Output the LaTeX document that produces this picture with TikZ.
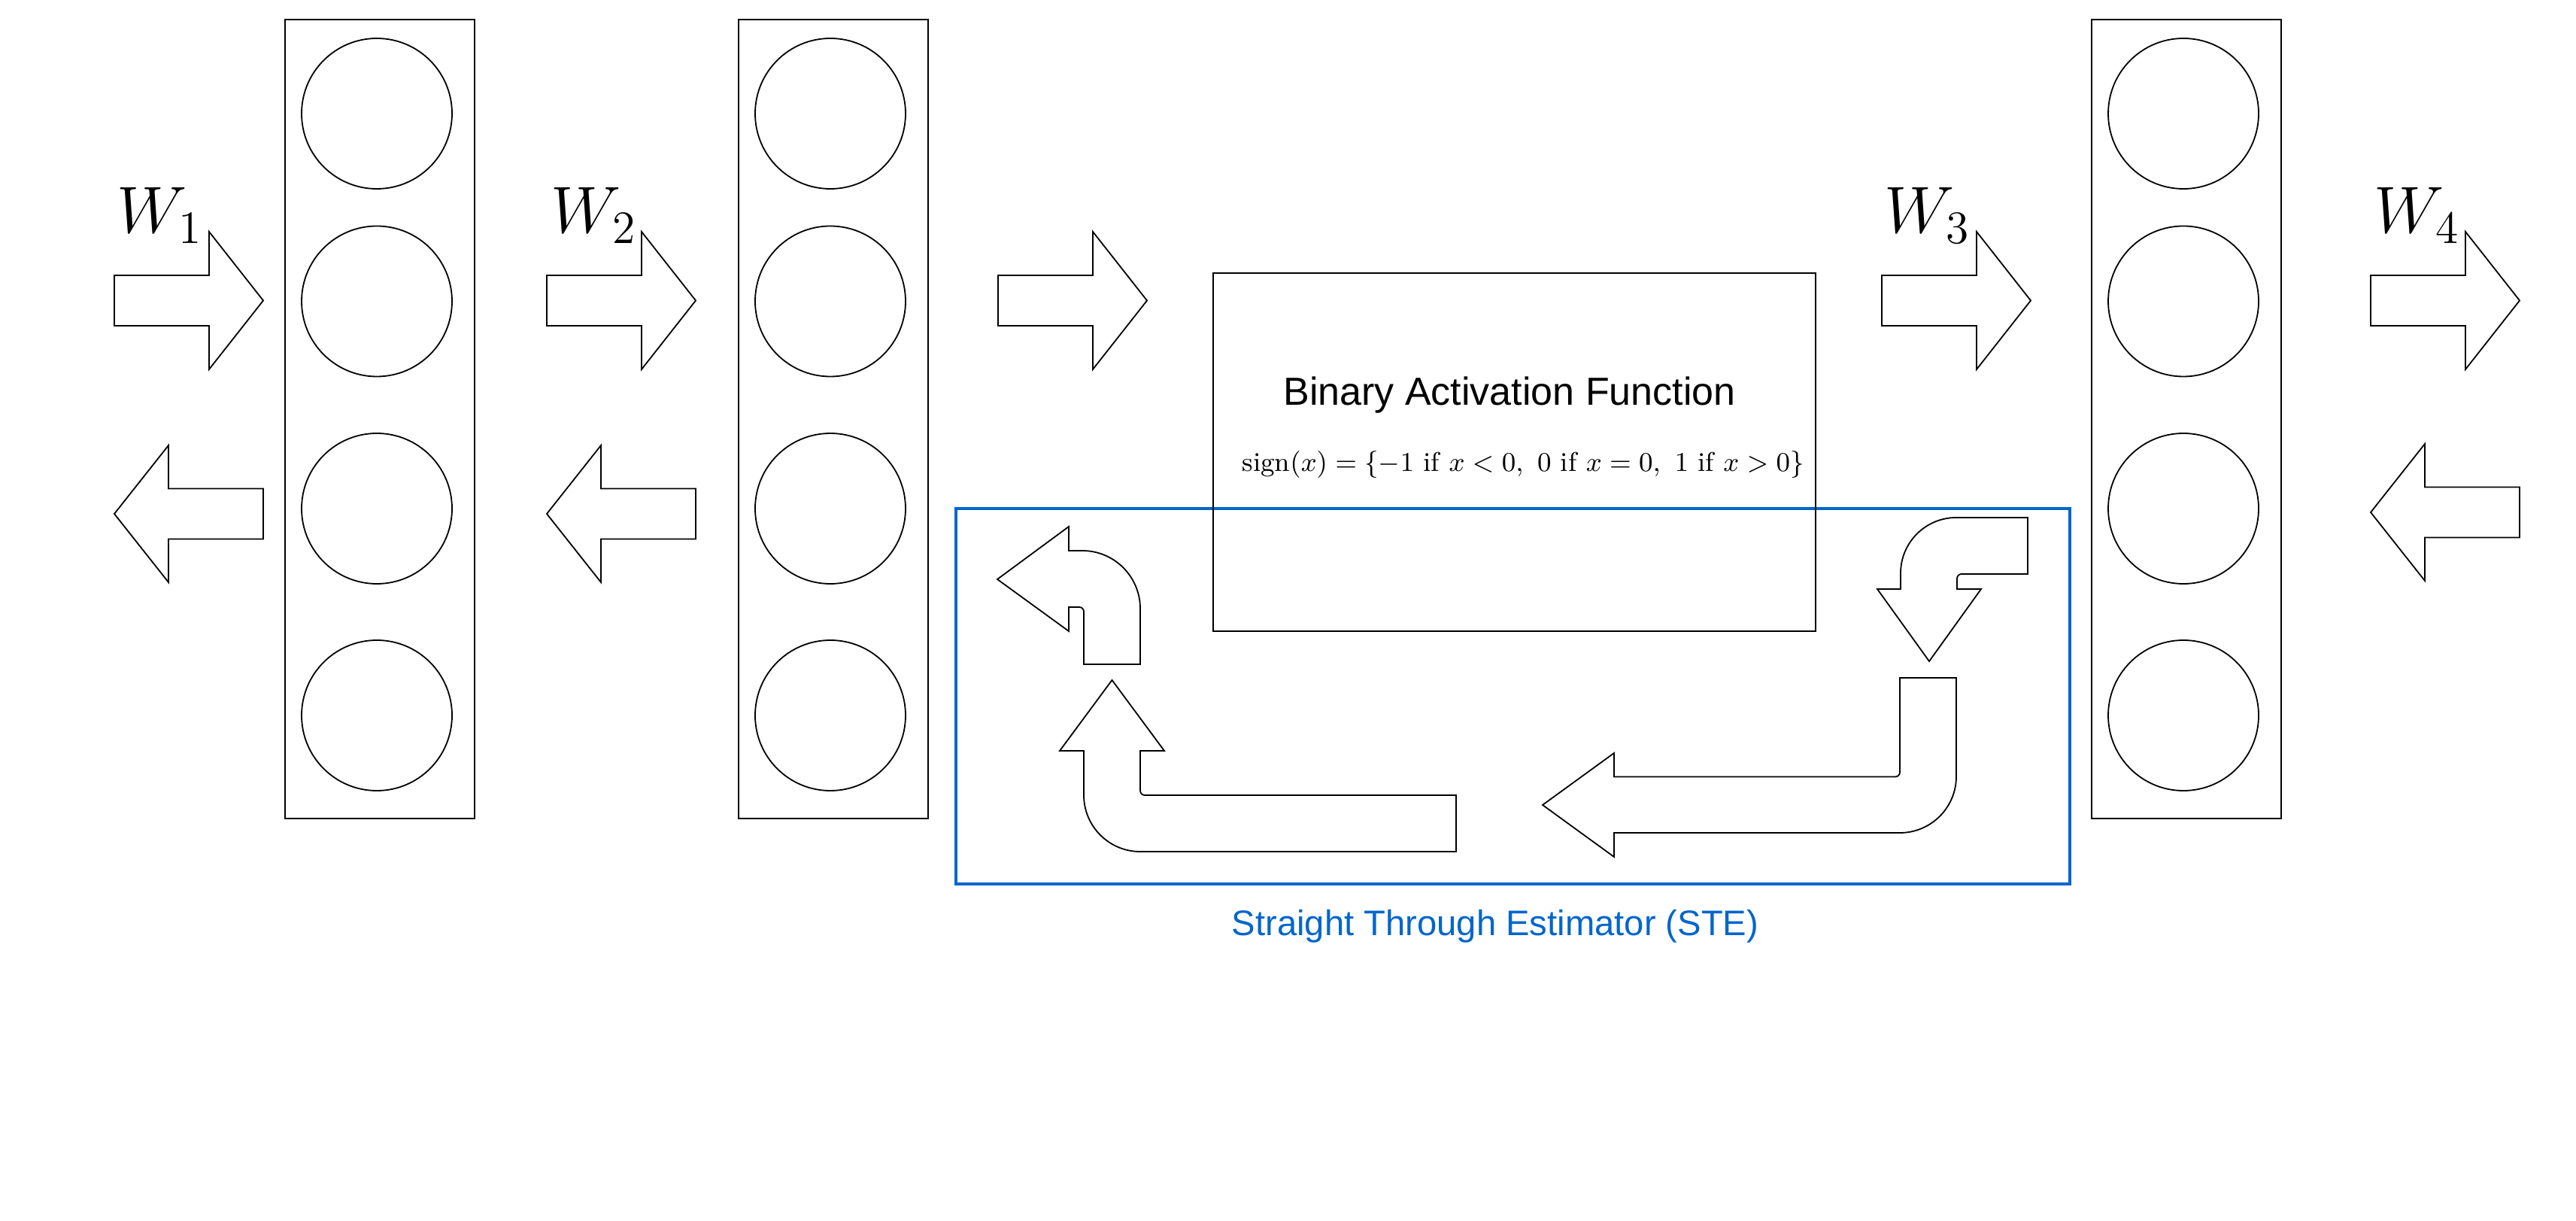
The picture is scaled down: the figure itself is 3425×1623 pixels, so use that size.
\RequirePackage{fix-cm}
\documentclass[tikz,border=0pt]{standalone}
\usepackage{amsmath}
\usepackage{fontspec}
\newfontfamily\helv{Liberation Sans}
\definecolor{steblue}{RGB}{0,102,204}
\begin{document}
\begin{tikzpicture}[x=0.25pt,y=-0.25pt,
  thinline/.style={line width=0.45pt},
  layer/.style={draw, thinline, rectangle, minimum width=63pt, minimum height=265.5pt, inner sep=0pt},
  neuron/.style={draw, thinline, circle, minimum size=50pt, inner sep=0pt},
  blockarrow/.style={draw, thinline, line join=miter},
  wlabel/.style={anchor=base west, inner sep=0pt, font=\fontsize{22}{26}\selectfont},
  pics/rarrow/.style={code={\draw[blockarrow] (0,-33.5) -- (126,-33.5) -- (126,-91.5) -- (198,0) -- (126,91.5) -- (126,33.5) -- (0,33.5) -- cycle;}},
  pics/larrow/.style={code={\draw[blockarrow] (0,0) -- (72,-91) -- (72,-33.5) -- (198,-33.5) -- (198,33.5) -- (72,33.5) -- (72,91) -- cycle;}},
]
\fill[white] (0,0) rectangle (3425,1623);
\useasboundingbox (0,0) rectangle (3425,1623);

% layers with neurons
\foreach \lx/\bx/\nm in {505/501/L1, 1108/1104/L2, 2907/2903/L3} {
  \node[layer] (\nm) at (\lx,557) {};
  \foreach \cy [count=\i] in {151,400.5,676,951}
    \node[neuron] (\nm n\i) at (\bx,\cy) {};
}

% forward block arrows
\pic at (152,399.5) {rarrow};
\pic at (727,399.5) {rarrow};
\pic at (1327,399.5) {rarrow};
\pic at (2502,399.5) {rarrow};
\pic at (3152,399.5) {rarrow};
% backward block arrows
\pic at (152,683) {larrow};
\pic at (727,683) {larrow};
\pic at (3152,681) {larrow};

% weight labels
\node[wlabel] (w1) at (155,310) {$W_1$};
\node[wlabel] (w2) at (732,310) {$W_2$};
\node[wlabel] (w3) at (2505,310) {$W_3$};
\node[wlabel] (w4) at (3156,310) {$W_4$};

% STE frame
\node[draw=steblue, line width=0.9pt, rectangle, minimum width=370.25pt, minimum height=124.75pt, inner sep=0pt] (ste) at (2011.5,925.5) {};
\node[anchor=base, inner sep=0pt, text=steblue, font=\helv\fontsize{11.8}{14}\selectfont] (stelabel) at (1988,1243) {Straight Through Estimator (STE)};

% binary activation box
\node[draw, thinline, rectangle, minimum width=200.25pt, minimum height=119pt, inner sep=0pt] (baf) at (2013.5,601) {};
\node[anchor=base, inner sep=0pt, font=\helv\fontsize{13}{15}\selectfont] (baftitle) at (2007,539) {Binary Activation Function};
\node[anchor=base, inner sep=0pt, font=\fontsize{9}{11}\selectfont] (signf) at (2025,627) {$\mathrm{sign}(x) = \{-1 \text{ if } x < 0,\ 0 \text{ if } x = 0,\ 1 \text{ if } x > 0\}$};

% STE curved arrows
% A: top-left, pointing left
\draw[blockarrow] (1326,770) -- (1421,700) -- (1421,732) -- (1439,732)
  .. controls (1481.5,732) and (1516,766.5) .. (1516,809) -- (1516,883) -- (1441,883) -- (1441,813)
  .. controls (1441,809.7) and (1438.3,807) .. (1435,807) -- (1421,807) -- (1421,839) -- cycle;
% B: bottom-left, pointing up
\draw[blockarrow] (1478.5,904) -- (1548,998) -- (1516,998) -- (1516,1051)
  .. controls (1516,1054.3) and (1518.7,1057) .. (1522,1057) -- (1936,1057) -- (1936,1132) -- (1516,1132)
  .. controls (1474.6,1132) and (1441,1098.4) .. (1441,1057) -- (1441,998) -- (1409,998) -- cycle;
% C: top-right, pointing down
\draw[blockarrow] (2565,879) -- (2634,783) -- (2602,783) -- (2602,769)
  .. controls (2602,765.7) and (2604.7,763) .. (2608,763) -- (2696,763) -- (2696,688) -- (2601,688)
  .. controls (2560.1,688) and (2527,721.1) .. (2527,762) -- (2527,783) -- (2496,783) -- cycle;
% D: bottom-right, pointing left
\draw[blockarrow] (2051,1070) -- (2146,1001) -- (2146,1032.5) -- (2520,1032.5)
  .. controls (2523.3,1032.5) and (2526,1029.8) .. (2526,1026.5) -- (2526,901) -- (2601,901) -- (2601,1032)
  .. controls (2601,1073.4) and (2567.4,1107) .. (2526,1107) -- (2146,1107) -- (2146,1139) -- cycle;
\end{tikzpicture}
\end{document}
